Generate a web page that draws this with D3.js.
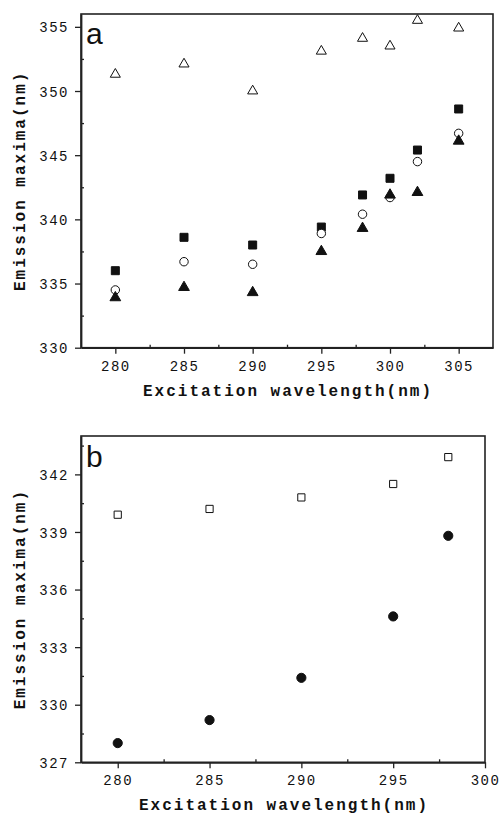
<!DOCTYPE html>
<html>
<head>
<meta charset="utf-8">
<script src="https://cdn.jsdelivr.net/npm/d3@7"></script>
<style>
body { margin: 0; background: #fff; }
.tick text { font-family: "Liberation Mono", monospace; font-size: 14px; letter-spacing: 1.5px; fill: #111; }
.title { font-family: "Liberation Mono", monospace; font-size: 16px; font-weight: bold; letter-spacing: 2px; fill: #111; }
.letter { font-family: "Liberation Sans", Arial, sans-serif; font-size: 30px; fill: #111; }
</style>
</head>
<body>
<div id="chart"></div>
<script>
let width = 500;
let height = 815;

// panel a
let waveA = [280, 285, 290, 295, 298, 300, 302, 305];
let openTriA = [351.3, 352.1, 350.0, 353.1, 354.1, 353.5, 355.5, 354.9];
let squareA = [336.0, 338.6, 338.0, 339.4, 341.9, 343.2, 345.4, 348.6];
let openCircA = [334.5, 336.7, 336.5, 338.9, 340.4, 341.7, 344.5, 346.7];
let triA = [333.9, 334.7, 334.3, 337.5, 339.3, 341.9, 342.1, 346.1];
let xTicksA = [280, 285, 290, 295, 300, 305];
let yTicksA = [330, 335, 340, 345, 350, 355];

// panel b
let waveB = [280, 285, 290, 295, 298];
let openSqB = [339.9, 340.2, 340.8, 341.5, 342.9];
let circB = [328.0, 329.2, 331.4, 334.6, 338.8];
let xTicksB = [280, 285, 290, 295, 300];
let yTicksB = [327, 330, 333, 336, 339, 342];

let svg = d3.select("#chart")
	.append("svg")
	.attr("width", width).attr("height", height);

function panel(cfg) {
	let x = d3.scaleLinear().domain(cfg.xDomain).range([cfg.left, cfg.right]);
	let y = d3.scaleLinear().domain(cfg.yDomain).range([cfg.bottom, cfg.top]);
	let g = svg.append("g");

	// frame
	g.append("rect")
		.attr("x", cfg.left).attr("y", cfg.top)
		.attr("width", cfg.right - cfg.left).attr("height", cfg.bottom - cfg.top)
		.attr("fill", "none").attr("stroke", "#222").attr("stroke-width", 1.6);

	// minor ticks (inside)
	let minorX = [], minorY = [];
	for (let v = cfg.xTicks[0] + cfg.xStep / 2; v < cfg.xDomain[1]; v += cfg.xStep) minorX.push(v);
	for (let v = cfg.yTicks[0] + cfg.yStep / 2; v < cfg.yDomain[1]; v += cfg.yStep) minorY.push(v);
	g.append("g").attr("transform", `translate(0,${cfg.bottom})`)
		.call(d3.axisTop(x).tickValues(minorX).tickSize(3).tickFormat(""))
		.call(a => a.select(".domain").remove());
	g.append("g").attr("transform", `translate(${cfg.left},0)`)
		.call(d3.axisRight(y).tickValues(minorY).tickSize(3).tickFormat(""))
		.call(a => a.select(".domain").remove());

	// major axes
	let ax = g.append("g").attr("transform", `translate(0,${cfg.bottom})`)
		.call(d3.axisBottom(x).tickValues(cfg.xTicks).tickSize(6).tickPadding(7).tickSizeOuter(0));
	let ay = g.append("g").attr("transform", `translate(${cfg.left},0)`)
		.call(d3.axisLeft(y).tickValues(cfg.yTicks).tickSize(6).tickPadding(6).tickSizeOuter(0));
	[ax, ay].forEach(a => {
		a.select(".domain").attr("stroke", "#222").attr("stroke-width", 1.8);
		a.selectAll(".tick line").attr("stroke", "#222").attr("stroke-width", 1.3);
	});
	ay.selectAll(".tick text").attr("dy", "0.36em");
	g.selectAll(".tick line").attr("stroke", "#222").attr("stroke-width", 1.3);

	// titles
	g.append("text").attr("class", "title")
		.attr("x", (cfg.left + cfg.right) / 2 + 1).attr("y", cfg.titleY)
		.attr("text-anchor", "middle")
		.text("Excitation wavelength(nm)");
	g.append("text").attr("class", "title")
		.attr("transform", `translate(25,${(cfg.top + cfg.bottom) / 2}) rotate(-90)`)
		.attr("text-anchor", "middle")
		.text("Emission maxima(nm)");
	g.append("text").attr("class", "letter")
		.attr("x", cfg.left + 5).attr("y", cfg.letterY)
		.text(cfg.letter);

	// series
	cfg.series.forEach(s => {
		g.append("g").selectAll("path").data(s.values)
			.join("path")
			.attr("transform", (d, i) => `translate(${x(cfg.xs[i])},${y(d)})`)
			.attr("d", d3.symbol().type(s.type).size(s.size))
			.attr("fill", s.filled ? "#111" : "#fff")
			.attr("stroke", "#111")
			.attr("stroke-width", 1);
	});
}

panel({
	xDomain: [277.5, 307.5], yDomain: [330, 356],
	left: 81, right: 493, top: 14, bottom: 347.7,
	xTicks: xTicksA, yTicks: yTicksA, xStep: 5, yStep: 5,
	titleY: 396, letterY: 44, letter: "a",
	xs: waveA,
	series: [
		{values: openTriA, type: d3.symbolTriangle, size: 44, filled: false},
		{values: squareA, type: d3.symbolSquare, size: 64, filled: true},
		{values: openCircA, type: d3.symbolCircle, size: 56, filled: false},
		{values: triA, type: d3.symbolTriangle, size: 50, filled: true}
	]
});

panel({
	xDomain: [278, 300], yDomain: [327, 344],
	left: 81, right: 485, top: 436, bottom: 762.3,
	xTicks: xTicksB, yTicks: yTicksB, xStep: 5, yStep: 3,
	titleY: 810, letterY: 467, letter: "b",
	xs: waveB,
	series: [
		{values: openSqB, type: d3.symbolSquare, size: 52, filled: false},
		{values: circB, type: d3.symbolCircle, size: 66, filled: true}
	]
});
</script>
</body>
</html>
